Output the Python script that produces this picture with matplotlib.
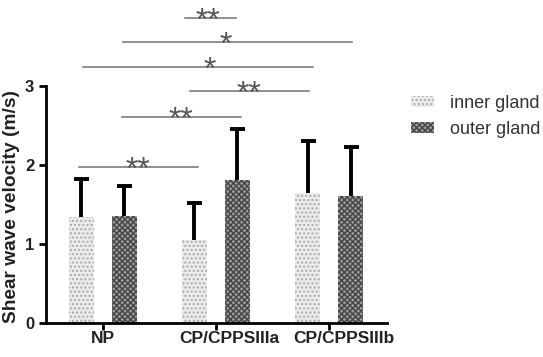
import matplotlib
matplotlib.use("Agg")
import matplotlib.pyplot as plt
import matplotlib.transforms as mtransforms
import numpy as np

plt.rcParams['font.family'] = ['Liberation Sans', 'DejaVu Sans']
plt.rcParams['hatch.linewidth'] = 1.0

groups = ["NP", "CP/CPPSIIIa", "CP/CPPSIIIb"]
inner_mean = [1.34, 1.05, 1.65]
inner_sd = [0.48, 0.47, 0.65]
outer_mean = [1.35, 1.81, 1.61]
outer_sd = [0.38, 0.65, 0.62]

# significance brackets: (x start, x end, height, label)
sig_x0 = [-0.21, 0.17, 0.77, -0.17, 0.18, 0.73]
sig_x1 = [0.84, 1.22, 1.82, 1.86, 2.20, 1.18]
sig_y = [1.97, 2.61, 2.94, 3.24, 3.56, 3.86]
sig_lab = ["**", "**", "**", "*", "*", "**"]
sig_pos = [0.50, 0.50, 0.50, 0.55, 0.45, 0.45]

fig = plt.figure(figsize=(5.43, 3.57), dpi=100)
ax = fig.add_axes([0.0847, 0.0952, 0.628, 0.905])

x = np.arange(len(groups))
off = 0.19
w = 0.22
ax.bar(x - off, inner_mean, w, color='#ebebeb', hatch='....', edgecolor='#aaaaaa',
       linewidth=0, zorder=2, label='inner gland')
ax.bar(x + off, outer_mean, w, color='#9c9c9c', hatch='xxxxxx', edgecolor='#454545',
       linewidth=0, zorder=2, label='outer gland')

# upper-only error bars
for xs, m, sd in [(x - off, inner_mean, inner_sd), (x + off, outer_mean, outer_sd)]:
    eb = ax.errorbar(xs, m, yerr=[np.zeros(3), sd], fmt='none', ecolor='black',
                     elinewidth=2.8, capsize=5.4, capthick=2.8, zorder=3)
    eb[1][0].set_visible(False)  # hide the lower cap

for a, b, y, s, p in zip(sig_x0, sig_x1, sig_y, sig_lab, sig_pos):
    ax.plot([a, b], [y, y], color='#707070', lw=1.1, zorder=4, clip_on=False)
    ax.text(a + (b - a) * p, y - 0.15, s, ha='center', va='baseline', fontsize=23,
            color='#555555', zorder=5)

ax.set_xlim(-0.5, 2.51)
ax.set_ylim(0, 4.09)
ax.set_yticks([0, 1, 2, 3])
ax.set_xticks(x)
ax.set_xticklabels([])
label_shift = [0, 13, 15]
for xi, g, dx in zip(x, groups, label_shift):
    tr = ax.get_xaxis_transform() + mtransforms.ScaledTranslation(dx / 100, -8 / 100, fig.dpi_scale_trans)
    ax.text(xi, 0, g, transform=tr, ha='center', va='top', fontsize=12.5,
            fontweight='bold', color='#222222')
ax.tick_params(axis='y', labelsize=12, width=2, length=5, labelcolor='#222222')
ax.tick_params(axis='x', width=2, length=5)
for lab in ax.get_yticklabels():
    lab.set_fontweight('bold')
ax.spines[['top', 'right']].set_visible(False)
ax.spines['left'].set_bounds(0, 3)
ax.spines['left'].set_linewidth(2)
ax.spines['bottom'].set_linewidth(2)
ax.set_ylabel('Shear wave velocity (m/s)', fontsize=13.8, fontweight='bold', color='#222222')
ax.yaxis.set_label_coords(-0.075, 0.36)

leg = fig.legend(loc='upper left', bbox_to_anchor=(0.727, 0.78), frameon=False,
                 fontsize=13, handlelength=1.3, handleheight=0.55, handletextpad=0.85,
                 labelspacing=0.5)
for t in leg.get_texts():
    t.set_color('#333333')

fig.savefig('out.png', dpi=100, facecolor='white')
